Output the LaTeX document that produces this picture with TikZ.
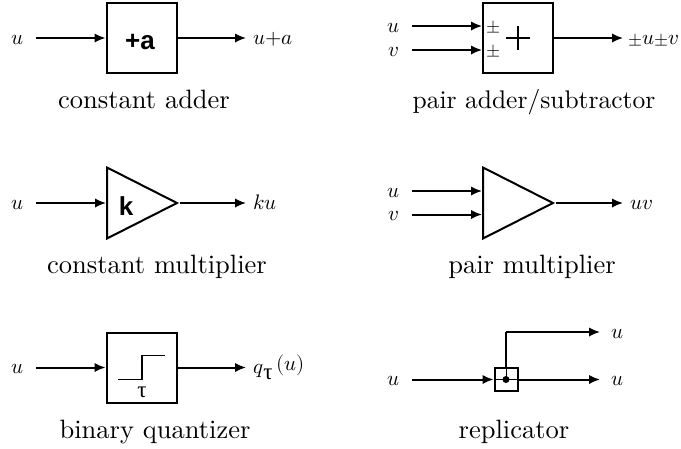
\documentclass[tikz,border=0pt]{standalone}
\usepackage{fontspec}
\usepackage{unicode-math}
\setmainfont{lmroman10-regular.otf}
\setsansfont{Liberation Sans}
\setmathfont{Latin Modern Math}
\newfontfamily\taufont{Liberation Serif}
\usetikzlibrary{arrows.meta,shapes.geometric}
\newcommand{\smpm}{{\fontsize{18}{18}\selectfont$\pm$}}
\tikzset{
  x=1pt,y=-1pt,
  blockbox/.style={draw,line width=2pt,minimum width=70pt,minimum height=70pt,inner sep=0pt,anchor=center},
  smallbox/.style={draw,line width=2pt,minimum width=23pt,minimum height=23pt,inner sep=0pt,anchor=center},
  tri/.style={draw,line width=2pt,isosceles triangle,isosceles triangle stretches,minimum width=71pt,minimum height=70pt,inner sep=0pt,anchor=lower side},
  wire/.style={line width=2pt,-{Latex[length=11pt,width=9.5pt]}},
  plain/.style={line width=2pt},
  sig/.style={font=\fontsize{21}{22}\selectfont,inner sep=0pt,anchor=base},
  sigl/.style={font=\fontsize{21}{22}\selectfont,inner sep=0pt,anchor=base west},
  captext/.style={font=\fontsize{26.5}{30}\selectfont,inner sep=0pt,anchor=base},
  heavy/.style={font=\fontsize{26}{28}\sffamily\bfseries\selectfont,inner sep=0pt},
}
\begin{document}
\begin{tikzpicture}
\useasboundingbox (0,0) rectangle (681,448);
% constant adder
\node[blockbox] (A) at (141.5,38) {};
\node[heavy] (Al) at (140,41.5) {+a};
\node[sig] (Ain) at (18,44) {$u$};
\coordinate (Afree) at (36,38);
\coordinate (Aout) at (246,38);
\node[sigl] (Aol) at (253,44) {$u{+}a$};
\draw[wire] (Afree) -- (A.west);
\draw[wire] (A.east) -- (Aout);
\node[captext] (Ac) at (144,108) {constant adder};
% pair adder
\node[blockbox] (B) at (517.5,38) {};
\node[sig] (Bu) at (394,32) {$u$};
\node[sig] (Bv) at (394,56) {$v$};
\coordinate (Bf1) at (412,26);
\coordinate (Bf2) at (412,50);
\coordinate (Bt1) at (482,26);
\coordinate (Bt2) at (482,50);
\draw[wire] (Bf1) -- (Bt1);
\draw[wire] (Bf2) -- (Bt2);
\node[font=\fontsize{18}{18}\selectfont,inner sep=0pt] (Bp1) at (493,27.5) {$\pm$};
\node[font=\fontsize{18}{18}\selectfont,inner sep=0pt] (Bp2) at (493,51) {$\pm$};
\coordinate (Bpl) at (506,38);
\coordinate (Bpr) at (530,38);
\coordinate (Bpt) at (518,26);
\coordinate (Bpb) at (518,50);
\draw[line width=1.7pt] (Bpl) -- (Bpr) (Bpt) -- (Bpb);
\coordinate (Bout) at (623,38);
\draw[wire] (B.east) -- (Bout);
\node[sigl] (Bol) at (628,44) {\smpm$u$\smpm$v$};
\node[captext,font=\fontsize{25.5}{30}\selectfont] (Bc) at (534,108) {pair adder/subtractor};
% constant multiplier
\node[tri] (C) at (106,203) {};
\node[heavy] (Cl) at (126,206.5) {k};
\node[sig] (Cin) at (18,209) {$u$};
\coordinate (Cf) at (36,203);
\coordinate (Cout) at (246,203);
\draw[wire] (Cf) -- (C.lower side);
\draw[wire] (C.apex) -- (Cout);
\node[sigl] (Col) at (253,209) {$ku$};
\node[captext] (Cc) at (157,273) {constant multiplier};
% pair multiplier
\node[tri] (D) at (482,203) {};
\node[sig] (Du) at (394,197) {$u$};
\node[sig] (Dv) at (394,220.5) {$v$};
\coordinate (Df1) at (412,191);
\coordinate (Df2) at (412,214.5);
\coordinate (Dt1) at (482,191);
\coordinate (Dt2) at (482,214.5);
\draw[wire] (Df1) -- (Dt1);
\draw[wire] (Df2) -- (Dt2);
\coordinate (Dout) at (623,203);
\draw[wire] (D.apex) -- (Dout);
\node[sigl] (Dol) at (630,209) {$uv$};
\node[captext] (Dc) at (532,273) {pair multiplier};
% binary quantizer
\node[blockbox] (E) at (141.5,367.5) {};
\coordinate (Es) at (118,379.5);
\coordinate (Em) at (142,379.5);
\coordinate (En) at (142,355.5);
\coordinate (Ee) at (165,355.5);
\draw[line width=1.7pt] (Es) -- (Em) -- (En) -- (Ee);
\node[font=\fontsize{23}{24}\taufont\selectfont,inner sep=0pt,anchor=base] (Et) at (142,397.5) {τ};
\node[sig] (Ein) at (18,373.5) {$u$};
\coordinate (Ef) at (36,367.5);
\coordinate (Eout) at (246,367.5);
\draw[wire] (Ef) -- (E.west);
\draw[wire] (E.east) -- (Eout);
\node[sigl] (Eol) at (253,373.5) {$q$\raisebox{-6pt}{\fontsize{23}{24}\taufont\selectfont τ}\,\raisebox{3pt}{$(u)$}};
\node[captext] (Ec) at (155,438) {binary quantizer};
% replicator
\node[smallbox] (F) at (506,379.5) {};
\coordinate (Fc) at (506,379.5);
\fill (Fc) circle (3.5pt);
\node[sig] (Fin) at (394,385.5) {$u$};
\coordinate (Ff) at (412,379.5);
\coordinate (Fo1) at (600,379.5);
\coordinate (Fo2) at (600,332);
\coordinate (Fk) at (506,332);
\draw[wire] (Ff) -- (F.west);
\draw[wire] (F.east) -- (Fo1);
\draw[plain] (F.north) -- (Fk);
\draw[wire] (Fk) -- (Fo2);
\draw[line width=.8pt] (F.west) -- (F.east) (F.north) -- (Fc);
\node[sig] (Fu1) at (618,338) {$u$};
\node[sig] (Fu2) at (618,385.5) {$u$};
\node[captext] (Fcap) at (514,438) {replicator};
\end{tikzpicture}
\end{document}
